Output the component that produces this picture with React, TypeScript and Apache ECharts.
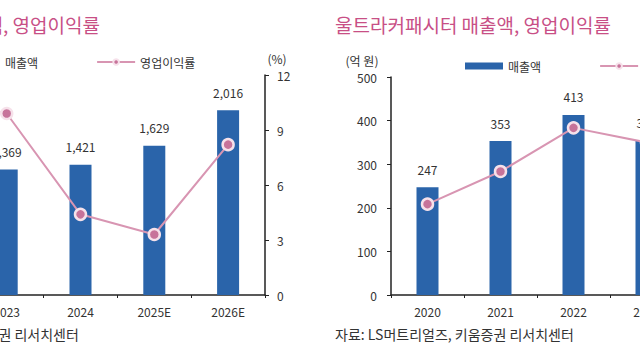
import React, { useEffect, useRef } from "react";
import * as echarts from "echarts";

// Left chart (company total)
const leftYears = ["2022", "2023", "2024", "2025E", "2026E"];
const leftSales = [null, 1369, 1421, 1629, 2016];
const leftMargin = [10.5, 9.9, 4.4, 3.3, 8.2];
const leftPctTicks = { min: 0, max: 12, interval: 3 };

// Right chart (ultracapacitor)
const rightYears = ["2020", "2021", "2022", "2023"];
const rightSales = [247, 353, 413, 355];
const rightMargin = [5.0, 6.8, 9.2, 8.4];
const rightSalesTicks = { min: 0, max: 500, interval: 100 };

const FONT = "'Noto Sans CJK KR', 'Noto Sans', sans-serif";
const BLUE = "#2a64aa";
const PINK_LINE = "#d895b2";
const TITLE = "#c84f86";
const TXT = "#333";

// canvas is wider than the viewport and shifted left by OFF px
const OFF = 150;
const CW = 900;

export default function App() {
  const ref = useRef<HTMLDivElement>(null);
  useEffect(() => {
    if (!ref.current) return;
    const chart = echarts.init(ref.current, null, { renderer: "svg" });
    const axisLine = { show: true, lineStyle: { color: "#222", width: 1.5 } };
    const barLabel = {
      show: true,
      position: "top" as const,
      distance: 12,
      fontSize: 12,
      color: TXT,
      fontFamily: FONT,
      formatter: (p: any) => Number(p.value).toLocaleString("en-US"),
    };
    const lineCommon = {
      type: "line" as const,
      symbol: "circle",
      symbolSize: 11,
      lineStyle: { color: PINK_LINE, width: 2 },
      itemStyle: { color: "#c7739a", borderColor: "#f6e1ea", borderWidth: 2.5 },
    };
    const xAxisCommon = {
      type: "category" as const,
      axisLine,
      axisTick: { show: true, length: 3, lineStyle: { color: "#222" } },
      axisLabel: { fontSize: 12, color: TXT, margin: 10, fontFamily: FONT },
    };
    const legendCommon = {
      itemWidth: 38,
      itemHeight: 7,
      itemGap: 58,
      textStyle: { fontSize: 12, color: TXT, fontFamily: FONT },
      data: [{ name: "매출액", icon: "rect" }, { name: "영업이익률" }],
    };
    const txt = (text: string, x: number, y: number, fontSize: number, fill: string, align = "left") => ({
      type: "text",
      x: x + OFF,
      y,
      style: { text, align, verticalAlign: "middle", fontSize, fill, fontFamily: FONT },
    });
    chart.setOption({
      animation: false,
      textStyle: { fontFamily: FONT },
      grid: [
        { left: -104 + OFF, right: CW - (265 + OFF), top: 75, bottom: 65 },
        { left: 391 + OFF, right: CW - (683 + OFF), top: 77, bottom: 65 },
      ],
      legend: [
        { ...legendCommon, left: -43 + OFF, top: 51 },
        { ...legendCommon, left: 460 + OFF, top: 55 },
      ],
      xAxis: [
        { ...xAxisCommon, gridIndex: 0, data: leftYears },
        { ...xAxisCommon, gridIndex: 1, data: rightYears },
      ],
      yAxis: [
        { type: "value", gridIndex: 0, min: 0, max: 2400, show: false },
        {
          type: "value",
          gridIndex: 0,
          position: "right",
          ...leftPctTicks,
          axisLine,
          axisTick: { show: true, length: 4, lineStyle: { color: "#222" } },
          splitLine: { show: false },
          axisLabel: { fontSize: 12, color: TXT, margin: 12, fontFamily: FONT },
        },
        {
          type: "value",
          gridIndex: 1,
          position: "left",
          ...rightSalesTicks,
          axisLine,
          axisTick: { show: true, length: 4, lineStyle: { color: "#222" } },
          splitLine: { show: false },
          axisLabel: { fontSize: 12, color: TXT, margin: 14, fontFamily: FONT },
        },
        { type: "value", gridIndex: 1, position: "right", min: 0, max: 12, show: false },
      ],
      series: [
        {
          name: "매출액",
          type: "bar",
          xAxisIndex: 0,
          yAxisIndex: 0,
          barWidth: 22,
          data: leftSales,
          itemStyle: { color: BLUE },
          label: barLabel,
        },
        { ...lineCommon, name: "영업이익률", xAxisIndex: 0, yAxisIndex: 1, data: leftMargin },
        {
          name: "매출액",
          type: "bar",
          xAxisIndex: 1,
          yAxisIndex: 2,
          barWidth: 22,
          data: rightSales,
          itemStyle: { color: BLUE },
          label: barLabel,
        },
        { ...lineCommon, name: "영업이익률", xAxisIndex: 1, yAxisIndex: 3, data: rightMargin },
      ],
      graphic: [
        txt("LS머트리얼즈 매출액, 영업이익률", 100, 24, 19, TITLE, "right"),
        txt("울트라커패시터 매출액, 영업이익률", 335, 24, 19, TITLE),
        txt("(%)", 277, 58, 12, TXT, "center"),
        txt("(억 원)", 362, 60, 12, TXT, "center"),
        txt("자료: LS머트리얼즈, 키움증권 리서치센터", -160, 334, 14, TXT),
        txt("자료: LS머트리얼즈, 키움증권 리서치센터", 335, 334, 14, TXT),
      ],
    });
    return () => chart.dispose();
  }, []);
  return (
    <div style={{ position: "fixed", left: 0, top: 0, width: 640, height: 360, overflow: "hidden", background: "#fff" }}>
      <div ref={ref} style={{ position: "absolute", left: -OFF, top: 0, width: CW, height: 360 }} />
    </div>
  );
}
